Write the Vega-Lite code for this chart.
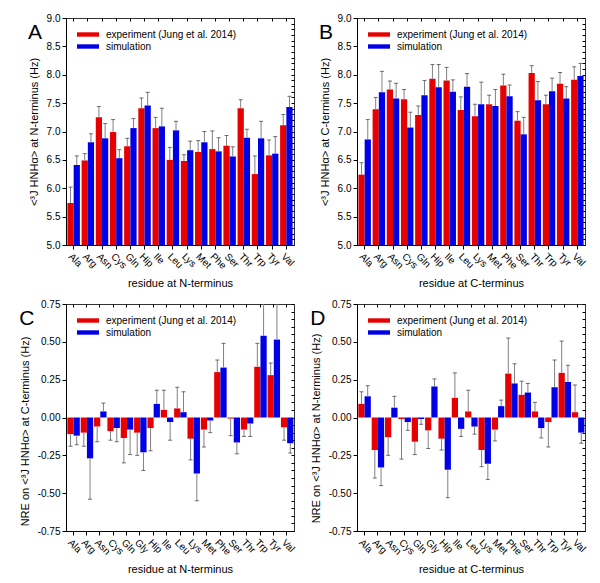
{
"$schema": "https://vega.github.io/schema/vega-lite/v6.json",
"padding": {"left": 18, "top": 12, "right": 5, "bottom": 5},
"background": "white",
"datasets": {
"A": [
{"r":"Ala","s":"exp","v":5.74,"e":6.02},{"r":"Ala","s":"sim","v":6.41,"e":6.57},
{"r":"Arg","s":"exp","v":6.49,"e":6.61},{"r":"Arg","s":"sim","v":6.81,"e":6.96},
{"r":"Asn","s":"exp","v":7.25,"e":7.44},{"r":"Asn","s":"sim","v":6.88,"e":7.14},
{"r":"Cys","s":"exp","v":6.99,"e":7.21},{"r":"Cys","s":"sim","v":6.53,"e":6.68},
{"r":"Gln","s":"exp","v":6.74,"e":6.88},{"r":"Gln","s":"sim","v":7.06,"e":7.23},
{"r":"Hip","s":"exp","v":7.41,"e":7.59},{"r":"Hip","s":"sim","v":7.46,"e":7.69},
{"r":"Ile","s":"exp","v":7.06,"e":7.25},{"r":"Ile","s":"sim","v":7.09,"e":7.41},
{"r":"Leu","s":"exp","v":6.50,"e":6.72},{"r":"Leu","s":"sim","v":7.02,"e":7.18},
{"r":"Lys","s":"exp","v":6.48,"e":6.59},{"r":"Lys","s":"sim","v":6.67,"e":6.83},
{"r":"Met","s":"exp","v":6.64,"e":6.84},{"r":"Met","s":"sim","v":6.81,"e":7.00},
{"r":"Phe","s":"exp","v":6.69,"e":7.01},{"r":"Phe","s":"sim","v":6.65,"e":6.89},
{"r":"Ser","s":"exp","v":6.75,"e":6.93},{"r":"Ser","s":"sim","v":6.56,"e":6.73},
{"r":"Thr","s":"exp","v":7.41,"e":7.56},{"r":"Thr","s":"sim","v":6.89,"e":7.04},
{"r":"Trp","s":"exp","v":6.25,"e":6.57},{"r":"Trp","s":"sim","v":6.88,"e":7.18},
{"r":"Tyr","s":"exp","v":6.58,"e":6.85},{"r":"Tyr","s":"sim","v":6.61,"e":6.91},
{"r":"Val","s":"exp","v":7.11,"e":7.30},{"r":"Val","s":"sim","v":7.43,"e":7.62}
],
"B": [
{"r":"Ala","s":"exp","v":6.24,"e":6.45},{"r":"Ala","s":"sim","v":6.86,"e":7.21},
{"r":"Arg","s":"exp","v":7.39,"e":7.60},{"r":"Arg","s":"sim","v":7.69,"e":8.06},
{"r":"Asn","s":"exp","v":7.74,"e":7.89},{"r":"Asn","s":"sim","v":7.58,"e":7.85},
{"r":"Cys","s":"exp","v":7.57,"e":7.74},{"r":"Cys","s":"sim","v":7.07,"e":7.34},
{"r":"Gln","s":"exp","v":7.29,"e":7.45},{"r":"Gln","s":"sim","v":7.64,"e":7.90},
{"r":"Hip","s":"exp","v":7.93,"e":8.18},{"r":"Hip","s":"sim","v":7.78,"e":8.18},
{"r":"Ile","s":"exp","v":7.90,"e":8.13},{"r":"Ile","s":"sim","v":7.70,"e":7.91},
{"r":"Leu","s":"exp","v":7.38,"e":7.61},{"r":"Leu","s":"sim","v":7.79,"e":8.02},
{"r":"Lys","s":"exp","v":7.27,"e":7.48},{"r":"Lys","s":"sim","v":7.48,"e":7.87},
{"r":"Met","s":"exp","v":7.48,"e":7.64},{"r":"Met","s":"sim","v":7.45,"e":7.74},
{"r":"Phe","s":"exp","v":7.81,"e":8.01},{"r":"Phe","s":"sim","v":7.62,"e":7.82},
{"r":"Ser","s":"exp","v":7.19,"e":7.35},{"r":"Ser","s":"sim","v":6.95,"e":7.25},
{"r":"Thr","s":"exp","v":8.03,"e":8.16},{"r":"Thr","s":"sim","v":7.55,"e":7.88},
{"r":"Trp","s":"exp","v":7.48,"e":7.64},{"r":"Trp","s":"sim","v":7.71,"e":7.94},
{"r":"Tyr","s":"exp","v":7.84,"e":8.04},{"r":"Tyr","s":"sim","v":7.58,"e":7.79},
{"r":"Val","s":"exp","v":7.91,"e":8.14},{"r":"Val","s":"sim","v":7.98,"e":8.20}
],
"C": [
{"r":"Ala","s":"exp","v":-0.11,"e":-0.19},{"r":"Ala","s":"sim","v":-0.12,"e":-0.18},
{"r":"Arg","s":"exp","v":-0.10,"e":-0.19},{"r":"Arg","s":"sim","v":-0.27,"e":-0.54},
{"r":"Asn","s":"exp","v":-0.06,"e":-0.16},{"r":"Asn","s":"sim","v":0.04,"e":0.095},
{"r":"Cys","s":"exp","v":-0.09,"e":-0.15},{"r":"Cys","s":"sim","v":-0.07,"e":-0.16},
{"r":"Gln","s":"exp","v":-0.135,"e":-0.30},{"r":"Gln","s":"sim","v":-0.08,"e":-0.245},
{"r":"Gly","s":"exp","v":-0.10,"e":-0.25},{"r":"Gly","s":"sim","v":-0.23,"e":-0.35},
{"r":"Hip","s":"exp","v":-0.07,"e":-0.22},{"r":"Hip","s":"sim","v":0.09,"e":0.18},
{"r":"Ile","s":"exp","v":0.05,"e":0.18},{"r":"Ile","s":"sim","v":-0.03,"e":-0.15},
{"r":"Leu","s":"exp","v":0.06,"e":0.20},{"r":"Leu","s":"sim","v":0.035,"e":0.17},
{"r":"Lys","s":"exp","v":-0.14,"e":-0.28},{"r":"Lys","s":"sim","v":-0.37,"e":-0.55},
{"r":"Met","s":"exp","v":-0.08,"e":-0.195},{"r":"Met","s":"sim","v":-0.02,"e":-0.10},
{"r":"Phe","s":"exp","v":0.30,"e":0.38},{"r":"Phe","s":"sim","v":0.33,"e":0.49},
{"r":"Ser","s":"exp","v":-0.007,"e":-0.12},{"r":"Ser","s":"sim","v":-0.165,"e":-0.24},
{"r":"Thr","s":"exp","v":-0.08,"e":-0.125},{"r":"Thr","s":"sim","v":-0.04,"e":-0.125},
{"r":"Trp","s":"exp","v":0.335,"e":0.49},{"r":"Trp","s":"sim","v":0.54,"e":0.80},
{"r":"Tyr","s":"exp","v":0.28,"e":0.36},{"r":"Tyr","s":"sim","v":0.515,"e":0.80},
{"r":"Val","s":"exp","v":-0.065,"e":-0.15},{"r":"Val","s":"sim","v":-0.17,"e":-0.235}
],
"D": [
{"r":"Ala","s":"exp","v":0.09,"e":0.17},{"r":"Ala","s":"sim","v":0.14,"e":0.21},
{"r":"Arg","s":"exp","v":-0.215,"e":-0.40},{"r":"Arg","s":"sim","v":-0.33,"e":-0.45},
{"r":"Asn","s":"exp","v":-0.13,"e":-0.25},{"r":"Asn","s":"sim","v":0.065,"e":0.14},
{"r":"Cys","s":"exp","v":-0.01,"e":-0.275},{"r":"Cys","s":"sim","v":-0.03,"e":-0.085},
{"r":"Gln","s":"exp","v":-0.16,"e":-0.245},{"r":"Gln","s":"sim","v":-0.01,"e":-0.045},
{"r":"Gly","s":"exp","v":-0.085,"e":-0.205},{"r":"Gly","s":"sim","v":0.205,"e":0.255},
{"r":"Hip","s":"exp","v":-0.14,"e":-0.215},{"r":"Hip","s":"sim","v":-0.345,"e":-0.53},
{"r":"Ile","s":"exp","v":0.13,"e":0.295},{"r":"Ile","s":"sim","v":-0.075,"e":-0.125},
{"r":"Leu","s":"exp","v":0.04,"e":0.18},{"r":"Leu","s":"sim","v":-0.06,"e":-0.11},
{"r":"Lys","s":"exp","v":-0.215,"e":-0.325},{"r":"Lys","s":"sim","v":-0.305,"e":-0.41},
{"r":"Met","s":"exp","v":-0.08,"e":-0.155},{"r":"Met","s":"sim","v":0.075,"e":0.115},
{"r":"Phe","s":"exp","v":0.29,"e":0.525},{"r":"Phe","s":"sim","v":0.225,"e":0.355},
{"r":"Ser","s":"exp","v":0.15,"e":0.24},{"r":"Ser","s":"sim","v":0.165,"e":0.225},
{"r":"Thr","s":"exp","v":0.04,"e":0.10},{"r":"Thr","s":"sim","v":-0.07,"e":-0.135},
{"r":"Trp","s":"exp","v":-0.03,"e":-0.195},{"r":"Trp","s":"sim","v":0.20,"e":0.38},
{"r":"Tyr","s":"exp","v":0.295,"e":0.505},{"r":"Tyr","s":"sim","v":0.235,"e":0.345},
{"r":"Val","s":"exp","v":0.035,"e":0.215},{"r":"Val","s":"sim","v":-0.10,"e":-0.17}
]
},
"columns": 2,
"spacing": {"row": 8, "column": 12},
"resolve": {"legend": {"color": "independent"}},
"concat": [
{
"width": 228, "height": 227,
"title": {"text": "A"},
"data": {"name": "A"},
"resolve": {"axis": {"x": "independent", "y": "independent"}},
"layer": [
{
"encoding": {
 "x": {"field": "r", "type": "nominal", "sort": null, "scale": {"paddingInner": 0.12, "paddingOuter": 0.1}, "axis": {"title": "residue at N-terminus"}},
 "xOffset": {"field": "s", "type": "nominal", "scale": {"paddingInner": 0, "paddingOuter": 0}},
 "y": {"field": "v", "type": "quantitative", "scale": {"domain": [5, 9], "nice": false, "zero": false}, "axis": {"title": "<³J HNHα> at N-terminus (Hz)", "values": [5,5.5,6,6.5,7,7.5,8,8.5,9], "format": ".1f", "labelOverlap": false}}
},
"layer": [
 {"mark": {"type": "bar"},
  "encoding": {
   "y2": {"datum": 5},
   "color": {"field": "s", "type": "nominal", "scale": {"domain": ["exp","sim"], "range": ["#e60000","#0000e6"]}, "legend": {"title": null, "orient": "top-left", "labelExpr": "datum.label == 'exp' ? 'experiment (Jung et al. 2014)' : 'simulation'"}}
  }},
 {"mark": {"type": "rule", "clip": true, "color": "#808080"},
  "encoding": {"y2": {"field": "e"}}},
 {"mark": {"type": "tick", "clip": true, "color": "#333333", "size": 4, "thickness": 1},
  "encoding": {"y": {"field": "e", "type": "quantitative"}}}
]
},
{"mark": {"type": "tick", "opacity": 0},
 "encoding": {
  "x": {"field": "r", "type": "nominal", "sort": null, "axis": {"orient": "top", "labels": false, "title": null, "domain": false, "tickSize": -3}},
  "y": {"field": "v", "type": "quantitative", "axis": {"orient": "right", "labels": false, "title": null, "domain": false, "tickSize": -3, "values": [5,5.1,5.2,5.3,5.4,5.5,5.6,5.7,5.8,5.9,6,6.1,6.2,6.3,6.4,6.5,6.6,6.7,6.8,6.9,7,7.1,7.2,7.3,7.4,7.5,7.6,7.7,7.8,7.9,8,8.1,8.2,8.3,8.4,8.5,8.6,8.7,8.8,8.9,9]}}
 }}
]
},
{
"width": 228, "height": 227,
"title": {"text": "B"},
"data": {"name": "B"},
"resolve": {"axis": {"x": "independent", "y": "independent"}},
"layer": [
{
"encoding": {
 "x": {"field": "r", "type": "nominal", "sort": null, "scale": {"paddingInner": 0.12, "paddingOuter": 0.1}, "axis": {"title": "residue at C-terminus"}},
 "xOffset": {"field": "s", "type": "nominal", "scale": {"paddingInner": 0, "paddingOuter": 0}},
 "y": {"field": "v", "type": "quantitative", "scale": {"domain": [5, 9], "nice": false, "zero": false}, "axis": {"title": "<³J HNHα> at C-terminus (Hz)", "values": [5,5.5,6,6.5,7,7.5,8,8.5,9], "format": ".1f", "labelOverlap": false}}
},
"layer": [
 {"mark": {"type": "bar"},
  "encoding": {
   "y2": {"datum": 5},
   "color": {"field": "s", "type": "nominal", "scale": {"domain": ["exp","sim"], "range": ["#e60000","#0000e6"]}, "legend": {"title": null, "orient": "top-left", "labelExpr": "datum.label == 'exp' ? 'experiment (Jung et al. 2014)' : 'simulation'"}}
  }},
 {"mark": {"type": "rule", "clip": true, "color": "#808080"},
  "encoding": {"y2": {"field": "e"}}},
 {"mark": {"type": "tick", "clip": true, "color": "#333333", "size": 4, "thickness": 1},
  "encoding": {"y": {"field": "e", "type": "quantitative"}}}
]
},
{"mark": {"type": "tick", "opacity": 0},
 "encoding": {
  "x": {"field": "r", "type": "nominal", "sort": null, "axis": {"orient": "top", "labels": false, "title": null, "domain": false, "tickSize": -3}},
  "y": {"field": "v", "type": "quantitative", "axis": {"orient": "right", "labels": false, "title": null, "domain": false, "tickSize": -3, "values": [5,5.1,5.2,5.3,5.4,5.5,5.6,5.7,5.8,5.9,6,6.1,6.2,6.3,6.4,6.5,6.6,6.7,6.8,6.9,7,7.1,7.2,7.3,7.4,7.5,7.6,7.7,7.8,7.9,8,8.1,8.2,8.3,8.4,8.5,8.6,8.7,8.8,8.9,9]}}
 }}
]
},
{
"width": 228, "height": 227,
"title": {"text": "C"},
"data": {"name": "C"},
"resolve": {"axis": {"x": "independent", "y": "independent"}},
"layer": [
{
"encoding": {
 "x": {"field": "r", "type": "nominal", "sort": null, "scale": {"paddingInner": 0.12, "paddingOuter": 0.1}, "axis": {"title": "residue at N-terminus"}},
 "xOffset": {"field": "s", "type": "nominal", "scale": {"paddingInner": 0, "paddingOuter": 0}},
 "y": {"field": "v", "type": "quantitative", "scale": {"domain": [-0.75, 0.75], "nice": false, "zero": false}, "axis": {"title": "NRE on <³J HNHα> at C-terminus (Hz)", "titleY": 127, "values": [-0.75,-0.5,-0.25,0,0.25,0.5,0.75], "labelOverlap": false, "labelExpr": "replace(format(datum.value, '.2f'), '\u2212', '-')"}}
},
"layer": [
 {"mark": {"type": "rule", "color": "#9a9a9a"}, "encoding": {"y": {"datum": 0}}},
 {"mark": {"type": "bar"},
  "encoding": {
   "y2": {"datum": 0},
   "color": {"field": "s", "type": "nominal", "scale": {"domain": ["exp","sim"], "range": ["#e60000","#0000e6"]}, "legend": {"title": null, "orient": "top-left", "labelExpr": "datum.label == 'exp' ? 'experiment (Jung et al. 2014)' : 'simulation'"}}
  }},
 {"mark": {"type": "rule", "clip": true, "color": "#808080"},
  "encoding": {"y2": {"field": "e"}}},
 {"mark": {"type": "tick", "clip": true, "color": "#333333", "size": 4, "thickness": 1},
  "encoding": {"y": {"field": "e", "type": "quantitative"}}}
]
},
{"mark": {"type": "tick", "opacity": 0},
 "encoding": {
  "x": {"field": "r", "type": "nominal", "sort": null, "axis": {"orient": "top", "labels": false, "title": null, "domain": false, "tickSize": -3}},
  "y": {"field": "v", "type": "quantitative", "axis": {"orient": "right", "labels": false, "title": null, "domain": false, "tickSize": -3, "values": [-0.75,-0.7,-0.65,-0.6,-0.55,-0.5,-0.45,-0.4,-0.35,-0.3,-0.25,-0.2,-0.15,-0.1,-0.05,0,0.05,0.1,0.15,0.2,0.25,0.3,0.35,0.4,0.45,0.5,0.55,0.6,0.65,0.7,0.75]}}
 }}
]
},
{
"width": 228, "height": 227,
"title": {"text": "D"},
"data": {"name": "D"},
"resolve": {"axis": {"x": "independent", "y": "independent"}},
"layer": [
{
"encoding": {
 "x": {"field": "r", "type": "nominal", "sort": null, "scale": {"paddingInner": 0.12, "paddingOuter": 0.1}, "axis": {"title": "residue at C-terminus"}},
 "xOffset": {"field": "s", "type": "nominal", "scale": {"paddingInner": 0, "paddingOuter": 0}},
 "y": {"field": "v", "type": "quantitative", "scale": {"domain": [-0.75, 0.75], "nice": false, "zero": false}, "axis": {"title": "NRE on <³J HNHα> at N-terminus (Hz)", "titleY": 124, "values": [-0.75,-0.5,-0.25,0,0.25,0.5,0.75], "labelOverlap": false, "labelExpr": "replace(format(datum.value, '.2f'), '\u2212', '-')"}}
},
"layer": [
 {"mark": {"type": "rule", "color": "#9a9a9a"}, "encoding": {"y": {"datum": 0}}},
 {"mark": {"type": "bar"},
  "encoding": {
   "y2": {"datum": 0},
   "color": {"field": "s", "type": "nominal", "scale": {"domain": ["exp","sim"], "range": ["#e60000","#0000e6"]}, "legend": {"title": null, "orient": "top-left", "labelExpr": "datum.label == 'exp' ? 'experiment (Jung et al. 2014)' : 'simulation'"}}
  }},
 {"mark": {"type": "rule", "clip": true, "color": "#808080"},
  "encoding": {"y2": {"field": "e"}}},
 {"mark": {"type": "tick", "clip": true, "color": "#333333", "size": 4, "thickness": 1},
  "encoding": {"y": {"field": "e", "type": "quantitative"}}}
]
},
{"mark": {"type": "tick", "opacity": 0},
 "encoding": {
  "x": {"field": "r", "type": "nominal", "sort": null, "axis": {"orient": "top", "labels": false, "title": null, "domain": false, "tickSize": -3}},
  "y": {"field": "v", "type": "quantitative", "axis": {"orient": "right", "labels": false, "title": null, "domain": false, "tickSize": -3, "values": [-0.75,-0.7,-0.65,-0.6,-0.55,-0.5,-0.45,-0.4,-0.35,-0.3,-0.25,-0.2,-0.15,-0.1,-0.05,0,0.05,0.1,0.15,0.2,0.25,0.3,0.35,0.4,0.45,0.5,0.55,0.6,0.65,0.7,0.75]}}
 }}
]
}
],
"config": {
 "font": "Liberation Sans",
 "view": {"stroke": "#333333"},
 "axis": {"labelFontSize": 10, "titleFontSize": 11, "titleFontWeight": "normal", "labelColor": "#000", "titleColor": "#000", "domainColor": "#000", "tickColor": "#000", "grid": false, "tickSize": 4},
 "axisX": {"labelAngle": 45, "labelAlign": "left", "labelBaseline": "top", "titlePadding": 7},
 "axisY": {"titlePadding": 7, "labelOverlap": false},
 "legend": {"symbolType": "M-1,-0.4H3V0.4H-1Z", "symbolSize": 121, "symbolStrokeWidth": 0, "labelFontSize": 10, "labelColor": "#000", "labelOffset": 18, "offset": 11, "padding": 0, "rowPadding": 1},
 "title": {"anchor": "start", "frame": "bounds", "fontSize": 21, "fontWeight": "normal", "color": "#000", "offset": -30}
}
}
